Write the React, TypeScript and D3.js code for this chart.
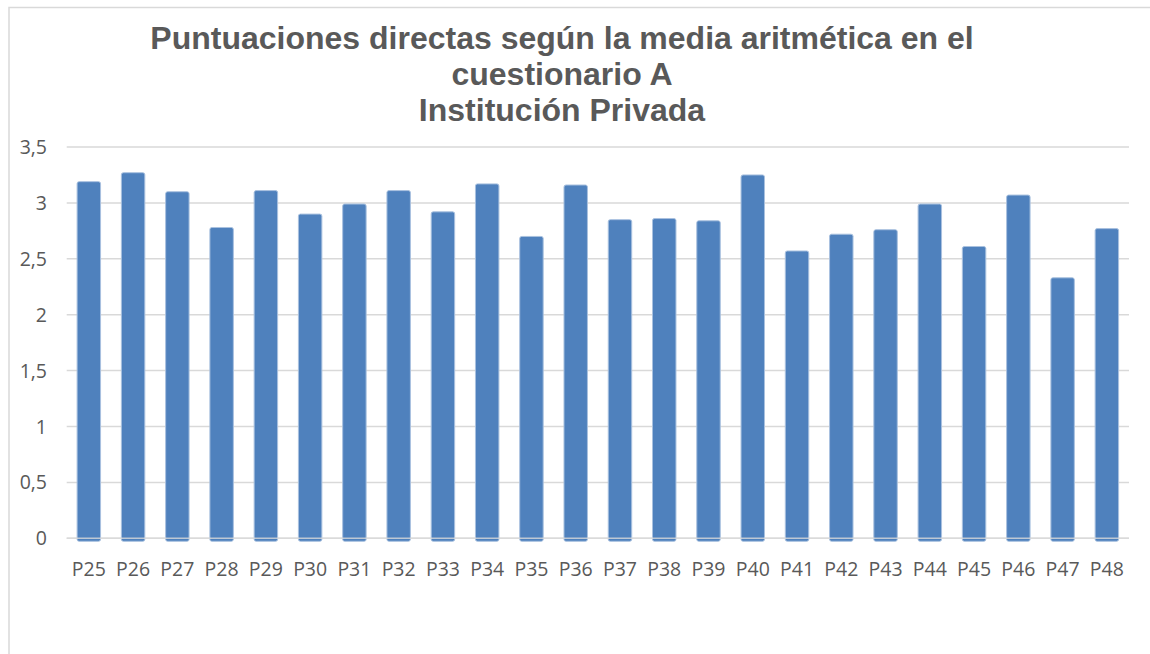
import React from "react";
import * as d3 from "d3";

const categories = ["P25","P26","P27","P28","P29","P30","P31","P32","P33","P34","P35","P36","P37","P38","P39","P40","P41","P42","P43","P44","P45","P46","P47","P48"];
const values = [3.19,3.27,3.10,2.78,3.11,2.90,2.99,3.11,2.92,3.17,2.70,3.16,2.85,2.86,2.84,3.25,2.57,2.72,2.76,2.99,2.61,3.07,2.33,2.77];
const yTicks = [0,0.5,1,1.5,2,2.5,3,3.5];
const titleLines = ["Puntuaciones directas según la media aritmética en el","cuestionario A","Institución Privada"];

const W = 1150, H = 654;
const plot = { left: 66.7, right: 1129, top: 147, bottom: 538.3 };

export default function App() {
  const x = d3.scaleBand<string>().domain(categories).range([plot.left, plot.right]).paddingInner(0.47).paddingOuter(0.235);
  const y = d3.scaleLinear().domain([0, 3.5]).range([plot.bottom, plot.top]);
  const fmt = (v: number) => String(v).replace(".", ",");
  return (
    <svg width={W} height={H} style={{ position: "absolute", left: 0, top: 0, background: "#fff" }}>
      <rect x={9} y={7.5} width={1160} height={700} fill="#fff" stroke="#d9d9d9" strokeWidth={1.5} />
      {titleLines.map((t, i) => (
        <text key={i} x={562} y={49 + i * 36} textAnchor="middle" fontFamily="Liberation Sans, Arial, sans-serif" fontWeight="bold" fontSize={32} fill="#595959">{t}</text>
      ))}
      {yTicks.map((t) => (
        <g key={t}>
          <line x1={plot.left} x2={plot.right} y1={y(t)} y2={y(t)} stroke="#d9d9d9" strokeWidth={1.5} />
          <text x={47} y={y(t)} dy="0.36em" textAnchor="end" fontFamily="Open Sans, sans-serif" fontSize={19.5} fill="#595959">{fmt(t)}</text>
        </g>
      ))}
      {categories.map((c, i) => (
        <rect key={c} x={x(c)} y={y(values[i])} width={x.bandwidth()} height={y(0) - y(values[i]) + 3} rx={2} fill="#4f81bd" stroke="#a9c1df" strokeWidth={1} />
      ))}
      <line x1={plot.left} x2={plot.right} y1={y(0)} y2={y(0)} stroke="#d9d9d9" strokeOpacity={0.8} strokeWidth={1.5} />
      {categories.map((c) => (
        <text key={c} x={(x(c) as number) + x.bandwidth() / 2} y={568.5} dy="0.36em" textAnchor="middle" fontFamily="Open Sans, sans-serif" fontSize={19.5} fill="#595959">{c}</text>
      ))}
    </svg>
  );
}
